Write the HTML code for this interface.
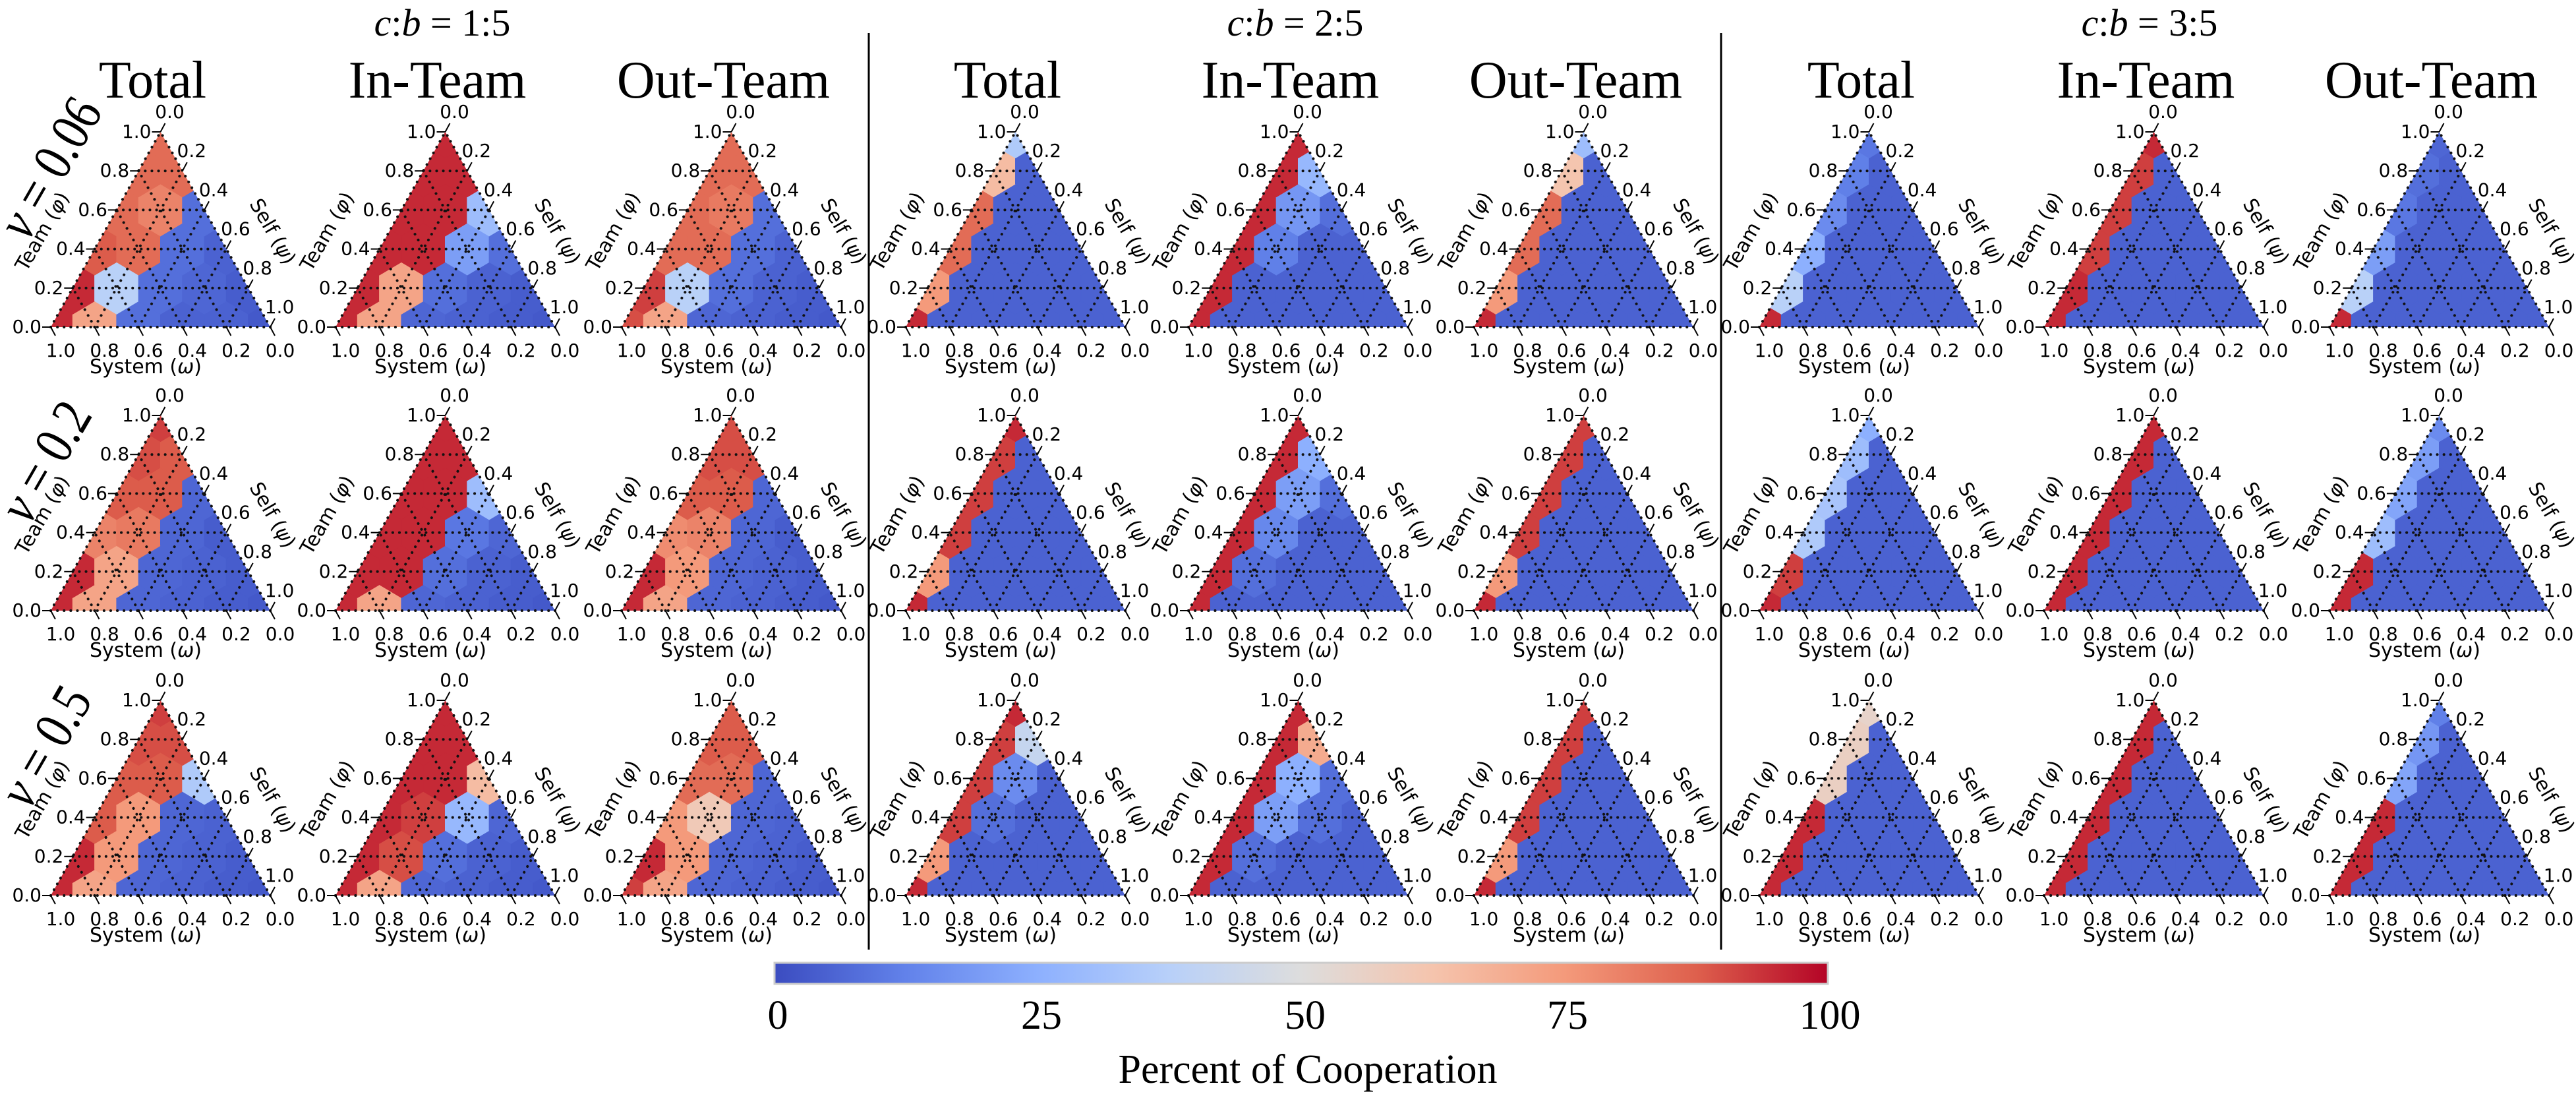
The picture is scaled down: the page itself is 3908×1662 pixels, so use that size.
<!DOCTYPE html>
<html><head><meta charset="utf-8">
<style>
html,body{margin:0;padding:0;background:#fff;}
svg{display:block;}
.tick{font-family:"DejaVu Sans","Liberation Sans",sans-serif;font-size:28px;fill:#000;}
.axl{font-family:"DejaVu Sans","Liberation Sans",sans-serif;font-size:30px;fill:#000;}
.ttl{font-family:"Liberation Serif",serif;font-size:80px;fill:#000;}
.grp{font-family:"Liberation Serif",serif;font-size:58px;fill:#000;}
.nu{font-family:"Liberation Serif",serif;font-size:84px;fill:#000;}
.cbt{font-family:"Liberation Serif",serif;font-size:62px;fill:#000;}
</style></head>
<body>
<svg id="fig" width="3908" height="1662" viewBox="0 0 3908 1662" xmlns="http://www.w3.org/2000/svg">
<defs>
<linearGradient id="cbgrad" x1="0" x2="1" y1="0" y2="0">
<stop offset="0" stop-color="rgb(59,76,192)"/>
<stop offset="0.125" stop-color="rgb(98,130,234)"/>
<stop offset="0.25" stop-color="rgb(141,176,254)"/>
<stop offset="0.375" stop-color="rgb(184,208,249)"/>
<stop offset="0.5" stop-color="rgb(221,221,221)"/>
<stop offset="0.625" stop-color="rgb(245,196,173)"/>
<stop offset="0.75" stop-color="rgb(244,154,123)"/>
<stop offset="0.875" stop-color="rgb(222,96,77)"/>
<stop offset="1" stop-color="rgb(180,4,38)"/>
</linearGradient>
</defs>
<g id="panels"></g>
<text class="grp" x="671" y="54" text-anchor="middle"><tspan font-style="italic">c</tspan>:<tspan font-style="italic">b</tspan> = 1:5</text>
<text class="grp" x="1965" y="54" text-anchor="middle"><tspan font-style="italic">c</tspan>:<tspan font-style="italic">b</tspan> = 2:5</text>
<text class="grp" x="3261" y="54" text-anchor="middle"><tspan font-style="italic">c</tspan>:<tspan font-style="italic">b</tspan> = 3:5</text>
<line x1="1318" y1="50" x2="1318" y2="1440" stroke="#000" stroke-width="3"/>
<line x1="2611" y1="50" x2="2611" y2="1440" stroke="#000" stroke-width="3"/>
<text class="nu" transform="translate(42,368) rotate(-60)" textLength="230" lengthAdjust="spacingAndGlyphs"><tspan font-style="italic">ν</tspan> = 0.06</text>
<text class="nu" transform="translate(44,798) rotate(-60)" textLength="195" lengthAdjust="spacingAndGlyphs"><tspan font-style="italic">ν</tspan> = 0.2</text>
<text class="nu" transform="translate(44,1230) rotate(-60)" textLength="195" lengthAdjust="spacingAndGlyphs"><tspan font-style="italic">ν</tspan> = 0.5</text>
<g>
<rect x="1175" y="1460" width="1598" height="32" fill="url(#cbgrad)" stroke="#ccc" stroke-width="3"/>
<text class="cbt" x="1180" y="1560" text-anchor="middle">0</text>
<text class="cbt" x="1580" y="1560" text-anchor="middle">25</text>
<text class="cbt" x="1980" y="1560" text-anchor="middle">50</text>
<text class="cbt" x="2378" y="1560" text-anchor="middle">75</text>
<text class="cbt" x="2776" y="1560" text-anchor="middle">100</text>
<text class="cbt" x="1984" y="1642" text-anchor="middle" font-size="72">Percent of Cooperation</text>
</g>
</svg>
<script>
// Values: per panel, rows by Team(phi) index 0..5 (bottom to apex), entries by Self(psi) index left to right.
const cb15_total = [
 [[95,72,8,5,5,3],[95,38,8,6,4],[88,85,8,5],[85,80,8],[85,85],[85]],
 [[95,72,6,5,4,3],[95,72,6,5,4],[80,82,6,4],[88,88,6],[90,88],[92]],
 [[95,72,6,5,4,3],[95,75,6,5,4],[88,75,6,5],[88,88,35],[90,90],[92]]
];
const cb15_in = [
 [[95,72,6,5,4,3],[95,72,8,5,4],[95,95,20,8],[95,95,30],[95,95],[95]],
 [[95,72,6,5,4,3],[95,95,8,5,4],[95,95,10,6],[95,95,30],[95,95],[95]],
 [[95,72,6,5,4,3],[95,90,8,5,4],[95,92,28,6],[95,95,65],[95,95],[95]]
];
const cb15_out = [
 [[90,72,6,5,4,3],[92,38,8,5,4],[85,85,8,5],[85,82,8],[85,85],[85]],
 [[95,72,6,5,4,3],[95,75,6,5,4],[78,80,6,4],[88,88,6],[90,90],[90]],
 [[92,72,6,5,4,3],[95,75,6,5,4],[75,60,6,5],[85,85,6],[88,88],[88]]
];
const cb25_total = [
 [[95,5,5,5,5,5],[75,5,5,5,5],[85,5,5,5],[85,5,5],[65,5],[35]],
 [[95,5,5,5,5,5],[75,5,5,5,5],[92,5,5,5],[92,5,5],[92,5],[95]],
 [[95,5,5,5,5,5],[75,5,5,5,5],[92,8,5,5],[92,15,5],[92,42],[95]]
];
const cb25_in = [
 [[95,5,5,5,5,5],[95,5,5,5,5],[95,12,5,5],[95,18,8],[95,28],[95]],
 [[95,5,5,5,5,5],[95,8,5,5,5],[95,14,5,5],[95,20,8],[95,25],[95]],
 [[95,5,5,5,5,5],[95,8,5,5,5],[95,20,8,5],[95,25,8],[95,70],[95]]
];
const cb25_out = [
 [[95,5,5,5,5,5],[75,5,5,5,5],[85,5,5,5],[85,5,5],[62,5],[30]],
 [[95,5,5,5,5,5],[75,5,5,5,5],[92,5,5,5],[92,5,5],[92,5],[92]],
 [[95,5,5,5,5,5],[75,5,5,5,5],[92,5,5,5],[92,5,5],[92,5],[92]]
];
const cb35_total = [
 [[95,5,5,5,5,5],[38,5,5,5,5],[25,5,5,5],[15,5,5],[12,5],[10]],
 [[95,5,5,5,5,5],[92,5,5,5,5],[35,5,5,5],[33,5,5],[30,5],[25]],
 [[95,5,5,5,5,5],[95,5,5,5,5],[95,5,5,5],[57,5,5],[57,5],[55]]
];
const cb35_in = [
 [[95,5,5,5,5,5],[95,5,5,5,5],[92,5,5,5],[92,5,5],[92,5],[95]],
 [[95,5,5,5,5,5],[95,5,5,5,5],[95,5,5,5],[95,5,5],[95,5],[95]],
 [[95,5,5,5,5,5],[95,5,5,5,5],[95,5,5,5],[95,5,5],[95,5],[95]]
];
const cb35_out = [
 [[95,5,5,5,5,5],[38,5,5,5,5],[20,5,5,5],[10,5,5],[8,5],[6]],
 [[95,5,5,5,5,5],[95,5,5,5,5],[30,5,5,5],[22,5,5],[20,5],[15]],
 [[95,5,5,5,5,5],[95,5,5,5,5],[95,5,5,5],[22,5,5],[18,5],[12]]
];
const columnTitles = ["Total","In-Team","Out-Team"];
const tickLabels = ["0.0","0.2","0.4","0.6","0.8","1.0"];
const columnData = [cb15_total, cb15_in, cb15_out, cb25_total, cb25_in, cb25_out, cb35_total, cb35_in, cb35_out];

const NS = "http://www.w3.org/2000/svg";
const lefts = [77,509,943,1374,1803,2236,2669,3101,3534];
const bases = [496,926,1358];
const W = 333, H = 296, N = 5;

const cmapStops = [[0,[59,76,192]],[0.125,[98,130,234]],[0.25,[141,176,254]],[0.375,[184,208,249]],[0.5,[221,221,221]],[0.625,[245,196,173]],[0.75,[244,154,123]],[0.875,[222,96,77]],[1,[180,4,38]]];
function cmap(v){
  const t = Math.max(0, Math.min(1, v/100));
  for (let k=1;k<cmapStops.length;k++){
    if (t <= cmapStops[k][0]){
      const a = cmapStops[k-1], b = cmapStops[k];
      const f = (t-a[0])/(b[0]-a[0]);
      const c = a[1].map((x,q)=>Math.round(x+(b[1][q]-x)*f));
      return "rgb("+c.join(",")+")";
    }
  }
  return "rgb(180,4,38)";
}
function mk(tag, attrs, parent){
  const e = document.createElementNS(NS, tag);
  for (const k in attrs) e.setAttribute(k, attrs[k]);
  parent.appendChild(e);
  return e;
}
const root = document.getElementById("panels");
let clipN = 0;

for (let c=0;c<9;c++){
  const L = lefts[c];
  const tt = mk("text", {class:"ttl", x:L+W/2-12, y:148, "text-anchor":"middle", "font-family":"Liberation Serif, serif"}, root);
  tt.textContent = columnTitles[c%3];
  
  
  for (let r=0;r<3;r++){
    const B = bases[r];
    const vals = columnData[c][r];
    const px = (i,j)=> L + W*(j + i/2)/N;
    const py = (i)=> B - H*i/N;
    const g = mk("g", {}, root);
    
    
    const cid = "clip"+(clipN++);
    const cp = mk("clipPath", {id:cid}, g);
    mk("polygon", {points: `${L},${B} ${L+W},${B} ${L+W/2},${B-H}`}, cp);
    const hg = mk("g", {"clip-path":`url(#${cid})`}, g);
    
    
    const dx = W/N, dy = H/N;
    for (let i=0;i<vals.length;i++){
      for (let j=0;j<vals[i].length;j++){
        const cx = px(i,j), cy = py(i);
        const pts = [[0,-2*dy/3],[dx/2,-dy/3],[dx/2,dy/3],[0,2*dy/3],[-dx/2,dy/3],[-dx/2,-dy/3]]
          .map(p=>(cx+p[0]).toFixed(1)+","+(cy+p[1]).toFixed(1)).join(" ");
        const h = mk("polygon", {points:pts, fill:cmap(vals[i][j]), stroke:cmap(vals[i][j]), "stroke-width":1}, hg);
        
        
      }
    }
    const dot = {stroke:"#111", "stroke-width":4, "stroke-dasharray":"0.1 10", "stroke-linecap":"round", fill:"none"};
    const lines = [];
    for (let k=0;k<=N;k++){
      lines.push([px(k,0),py(k),px(k,N-k),py(k)]);
      lines.push([px(0,k),py(0),px(N-k,k),py(N-k)]);
      lines.push([px(0,N-k),py(0),px(N-k,0),py(N-k)]);
    }
    for (const ln of lines){
      if (Math.hypot(ln[2]-ln[0], ln[3]-ln[1]) < 1) continue;
      const e = mk("line", Object.assign({x1:ln[0],y1:ln[1],x2:ln[2],y2:ln[3]}, dot), g);
      
      
    }
    for (let k=0;k<=N;k++){
      const lx = px(k,0), ly = py(k);
      const t1 = mk("line", {x1:lx, y1:ly, x2:lx-13, y2:ly, stroke:"#000", "stroke-width":2}, g);
      
      
      const l1 = mk("text", {class:"tick", x:lx-14, y:ly+9, "text-anchor":"end"}, g);
      l1.textContent = tickLabels[k];
      
      
      const rx = px(N-k,k), ry = py(N-k);
      const t2 = mk("line", {x1:rx, y1:ry, x2:rx+7, y2:ry-13, stroke:"#000", "stroke-width":2}, g);
      
      
      const l2 = mk("text", {class:"tick", x:rx+14, y:ry-21, "text-anchor":"middle"}, g);
      l2.textContent = tickLabels[k];
      
      
      const bx = px(0,N-k), by = B;
      const t3 = mk("line", {x1:bx, y1:by, x2:bx+7, y2:by+13, stroke:"#000", "stroke-width":2}, g);
      
      
      const l3 = mk("text", {class:"tick", x:bx+15, y:by+45, "text-anchor":"middle"}, g);
      l3.textContent = tickLabels[k];
      
      
    }
    const a1 = mk("text", {class:"axl", transform:`translate(${L-4},${B-140}) rotate(-60)`, "text-anchor":"middle"}, g);
    a1.innerHTML = 'Team (<tspan font-style="italic">φ</tspan>)';
    
    
    const a2 = mk("text", {class:"axl", transform:`translate(${L+328},${B-140}) rotate(60)`, "text-anchor":"middle"}, g);
    a2.innerHTML = 'Self (<tspan font-style="italic">ψ</tspan>)';
    
    
    const a3 = mk("text", {class:"axl", x:L+144, y:B+70, "text-anchor":"middle"}, g);
    a3.innerHTML = 'System (<tspan font-style="italic">ω</tspan>)';
    
    
  }
}
</script>
</body></html>
